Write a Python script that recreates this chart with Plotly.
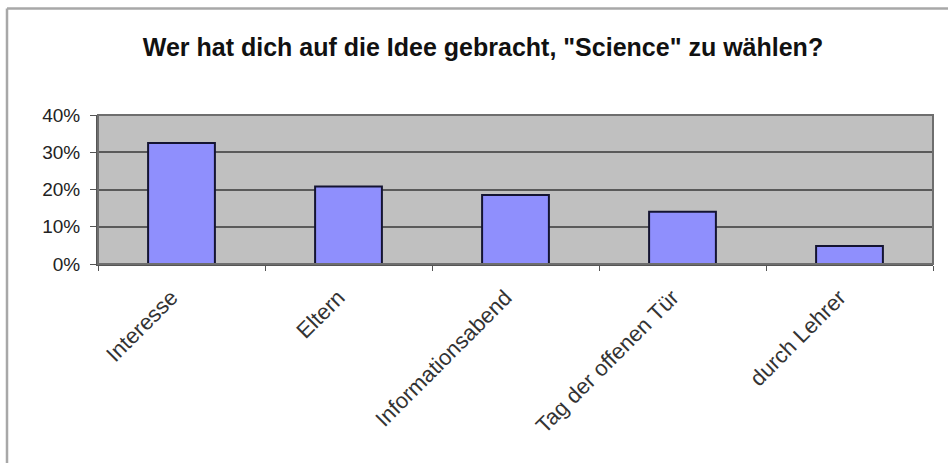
import plotly.graph_objects as go

categories = ["Interesse", "Eltern", "Informationsabend", "Tag der offenen Tür", "durch Lehrer"]
values = [0.325, 0.208, 0.185, 0.14, 0.048]
y_ticks = [0, 0.1, 0.2, 0.3, 0.4]
y_tick_labels = ["0%", "10%", "20%", "30%", "40%"]
title_text = 'Wer hat dich auf die Idee gebracht, "Science" zu wählen?'

W, H = 948, 463
ml, mr, mt, mb = 98, 15, 115, 199
pw, ph = W - ml - mr, H - mt - mb

def px_x(x):
    return (x - ml) / pw

def px_y(y):
    return (H - mb - y) / ph

fig = go.Figure(go.Bar(
    x=categories, y=values,
    marker=dict(color="#8f8ffd", line=dict(color="#141432", width=2)),
    width=0.4,
))

fig.update_layout(
    width=W, height=H,
    margin=dict(l=ml, r=mr, t=mt, b=mb),
    paper_bgcolor="white",
    plot_bgcolor="#c0c0c0",
    font=dict(family="Liberation Sans, Arial, sans-serif", color="#1a1a1a"),
    title=dict(text="<b>" + title_text + "</b>", x=483 / W, xref="container", xanchor="center",
               y=1 - 47 / H, yanchor="middle", font=dict(size=25, color="#111")),
    showlegend=False,
    bargap=0.6,
    shapes=[
        dict(type="line", xref="paper", yref="paper", x0=px_x(7), x1=px_x(948), y0=px_y(8.5), y1=px_y(8.5),
             line=dict(color="#a8a8a8", width=2.5)),
        dict(type="line", xref="paper", yref="paper", x0=px_x(7), x1=px_x(7), y0=px_y(8.5), y1=px_y(470),
             line=dict(color="#a8a8a8", width=2.5)),
        dict(type="rect", xref="paper", yref="paper", x0=0, x1=1, y0=0, y1=1,
             line=dict(color="#6e6e6e", width=2), layer="above"),
    ],
)

fig.update_xaxes(
    type="category",
    tickangle=-45,
    tickson="boundaries",
    ticks="outside", ticklen=5, tickcolor="#555",
    ticklabelstandoff=10,
    ticklabelshift=-10,
    showline=True, linecolor="#555", linewidth=2,
    showgrid=False,
    tickfont=dict(size=22, color="#333"),
)
fig.update_yaxes(
    range=[0, 0.4],
    tickvals=y_ticks, ticktext=y_tick_labels,
    ticks="outside", ticklen=6, tickcolor="#555",
    ticklabelstandoff=6,
    showline=True, linecolor="#555", linewidth=2,
    showgrid=True, gridcolor="#5a5a5a", gridwidth=2,
    zeroline=False,
    tickfont=dict(size=19, color="#222"),
)

fig.write_html("out.html")
